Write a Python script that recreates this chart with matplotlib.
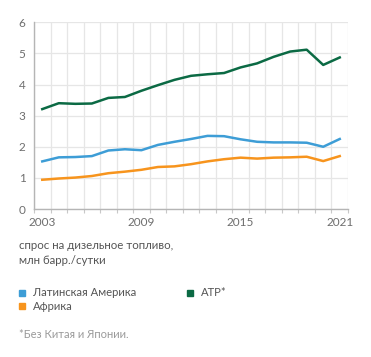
import matplotlib
matplotlib.use("Agg")
import matplotlib.pyplot as plt
from matplotlib.ticker import FixedLocator

years = list(range(2003, 2022))
atp = [3.21, 3.40, 3.38, 3.39, 3.57, 3.60, 3.80, 3.98, 4.15, 4.28, 4.33, 4.37, 4.55, 4.68, 4.89, 5.06, 5.12, 4.63, 4.87]
latam = [1.53, 1.66, 1.67, 1.70, 1.88, 1.92, 1.89, 2.06, 2.16, 2.25, 2.35, 2.34, 2.24, 2.16, 2.14, 2.14, 2.13, 2.00, 2.25]
africa = [0.94, 0.98, 1.01, 1.06, 1.15, 1.20, 1.26, 1.35, 1.37, 1.44, 1.53, 1.60, 1.65, 1.62, 1.65, 1.66, 1.68, 1.54, 1.70]
xticks = [2003, 2009, 2015, 2021]
yticks = [0, 1, 2, 3, 4, 5, 6]

c_atp = "#0b6a44"
c_lat = "#3d9dd6"
c_afr = "#f7941d"
grey = "#6e6e6e"

plt.rcParams['font.family'] = ['Lato', 'DejaVu Sans']

W, H = 371, 357
fig = plt.figure(figsize=(W / 100, H / 100), dpi=100)
ax = fig.add_axes([34 / W, 1 - 209 / H, (348 - 34) / W, (209 - 22.3) / H])

ax.plot(years, atp, color=c_atp, lw=1.8)
ax.plot(years, latam, color=c_lat, lw=1.8)
ax.plot(years, africa, color=c_afr, lw=1.8)

ax.set_xlim(2002.5, 2021.5)
ax.set_ylim(0, 6)
ax.set_xticks(xticks)
ax.xaxis.set_minor_locator(FixedLocator([y + 0.5 for y in range(2002, 2022)]))
ax.set_yticks(yticks)
ax.grid(which='minor', axis='x', color='#e6e6e6', lw=0.9)
ax.grid(which='major', axis='y', color='#e6e6e6', lw=0.9)
ax.set_axisbelow(True)
for s in ['top', 'right']:
    ax.spines[s].set_visible(False)
for s in ['left', 'bottom']:
    ax.spines[s].set_color('#b5b5b5')
    ax.spines[s].set_linewidth(1.0)
ax.tick_params(axis='x', which='major', length=0, pad=6, labelsize=8.5, labelcolor=grey)
ax.tick_params(axis='x', which='minor', length=3, color='#c8c8c8', width=0.8)
ax.tick_params(axis='y', length=0, pad=6, labelsize=8.5, labelcolor=grey)

txtc = "#555555"
fig.text(19 / W, 1 - 253 / H, "спрос на дизельное топливо,\nмлн барр./сутки", fontsize=8.3,
         color=txtc, va='center', ha='left', linespacing=1.35)

def legend_item(x, y, color, label):
    fig.patches.append(plt.Rectangle((x / W, 1 - (y + 3) / H), 6 / W, 6 / H,
                                     transform=fig.transFigure, color=color))
    fig.text((x + 14) / W, 1 - y / H, label, fontsize=8.1, color=txtc, va='center', ha='left')

legend_item(19, 293, c_lat, "Латинская Америка")
legend_item(19, 306, c_afr, "Африка")
legend_item(187, 293, c_atp, "АТР*")

fig.text(19 / W, 1 - 335 / H, "*Без Китая и Японии.", fontsize=8, color="#9a9a9a",
         va='center', ha='left')

fig.savefig("out.png", dpi=100)
